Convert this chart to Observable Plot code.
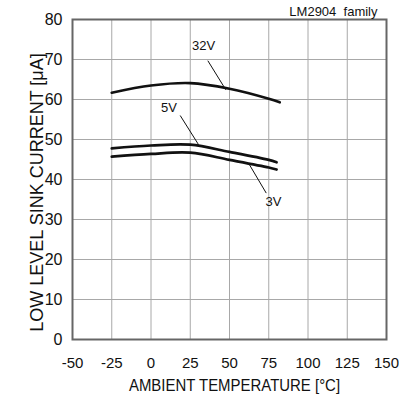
<!DOCTYPE html>
<html><head><meta charset="utf-8">
<script src="https://cdn.jsdelivr.net/npm/d3@7"></script>
<script src="https://cdn.jsdelivr.net/npm/@observablehq/plot@0.6"></script>
<style>body{margin:0;background:#fff;font-family:"Liberation Sans",Arial,sans-serif}</style>
</head><body><div id="chart"></div>
<script>
const temps32 = [-25, 0, 25, 50, 75, 82];
const sink32 = [61.7, 63.5, 64.1, 62.7, 60.2, 59.3];
const temps5 = [-25, 0, 25, 50, 75, 80];
const sink5 = [47.8, 48.5, 48.7, 46.9, 44.9, 44.3];
const temps3 = [-25, 0, 25, 50, 75, 80];
const sink3 = [45.7, 46.4, 46.7, 44.9, 43.0, 42.5];
const xTicks = [-50, -25, 0, 25, 50, 75, 100, 125, 150];
const yTicks = [0, 10, 20, 30, 40, 50, 60, 70, 80];
const labelNames = ["32V", "5V", "3V"];
const labelT = [33.5, 11.5, 78];
const labelV = [73.3, 58, 34.3];
const leaderT1 = [36.2, 18.6, 62.1];
const leaderV1 = [69.7, 56, 44.1];
const leaderT2 = [47.7, 30.3, 73.4];
const leaderV2 = [62.4, 48.7, 36.6];

const rows = [];
[["32V", temps32, sink32], ["5V", temps5, sink5], ["3V", temps3, sink3]].forEach(([s, t, v]) =>
  t.forEach((tt, i) => rows.push({series: s, t: tt, v: v[i]})));
const labels = labelNames.map((n, i) => ({n, t: labelT[i], v: labelV[i]}));
const leaders = labelNames.map((n, i) => ({t1: leaderT1[i], v1: leaderV1[i], t2: leaderT2[i], v2: leaderV2[i]}));

const xLabel = "AMBIENT TEMPERATURE [°C]";
const chart = Plot.plot({
  width: 399, height: 398,
  marginLeft: 72, marginRight: 13, marginTop: 19, marginBottom: 59,
  style: {fontFamily: '"Liberation Sans", Arial, sans-serif', background: "#fff"},
  x: {domain: [-50, 150], ticks: xTicks},
  y: {domain: [0, 80], ticks: yTicks},
  marks: [
    Plot.gridX(xTicks, {stroke: "#a8a8a8", strokeOpacity: 1, strokeWidth: 1}),
    Plot.gridY(yTicks, {stroke: "#a8a8a8", strokeOpacity: 1, strokeWidth: 1}),
    Plot.frame({stroke: "#666", strokeWidth: 2}),
    Plot.axisX(xTicks, {tickSize: 0, tickPadding: 18, fontSize: 15, fill: "#111", label: null, tickFormat: d => String(d)}),
    Plot.axisY(yTicks, {tickSize: 0, tickPadding: 10, fontSize: 16, fill: "#111", label: null, tickFormat: d => String(d)}),
    Plot.line(rows, {x: "t", y: "v", z: "series", stroke: "#111", strokeWidth: 2.7, curve: "catmull-rom"}),
    Plot.link(leaders, {x1: "t1", y1: "v1", x2: "t2", y2: "v2", stroke: "#111", strokeWidth: 1}),
    Plot.text(labels, {x: "t", y: "v", text: "n", fontSize: 13, fill: "#111"}),
    Plot.text(["LM2904\u00a0 family"], {frameAnchor: "top-right", dx: -9, dy: -13, fontSize: 13, fill: "#111", textAnchor: "end"}),
    Plot.text([xLabel], {frameAnchor: "bottom", textAnchor: "middle", dx: 5, dy: 51, fontSize: 17, fill: "#111", className: "xlab"}),
    Plot.text(["LOW LEVEL SINK CURRENT [μA]"], {frameAnchor: "left", textAnchor: "middle", dx: -35, dy: 13, rotate: -90, fontSize: 18, fill: "#111"})
  ]
});
d3.select(chart).selectAll("g.xlab text").each(function() {
  const t = this.getAttribute("transform") || "";
  this.setAttribute("transform", t + " scale(0.88,1)");
});
document.getElementById("chart").appendChild(chart);
</script></body></html>
